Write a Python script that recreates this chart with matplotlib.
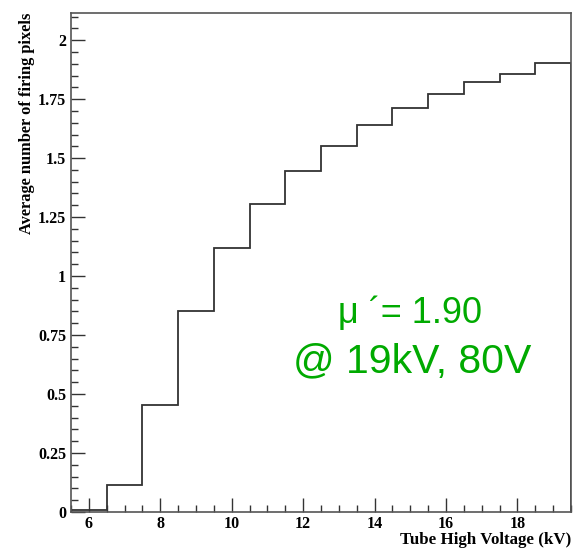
import matplotlib.pyplot as plt
import numpy as np
from matplotlib.ticker import MultipleLocator

# tube high voltage bins (kV) and mean number of firing pixels
voltage = [6, 7, 8, 9, 10, 11, 12, 13, 14, 15, 16, 17, 18, 19]
avg_pixels = [0.01, 0.115, 0.455, 0.85, 1.12, 1.305, 1.445, 1.55, 1.64, 1.712,
              1.77, 1.822, 1.856, 1.905]

edges = np.append(np.array(voltage) - 0.5, voltage[-1] + 0.5)

fig = plt.figure(figsize=(5.74, 5.49), dpi=100)
ax = fig.add_axes([0.1237, 0.0674, 0.8711, 0.9089])

ax.stairs(avg_pixels, edges, color='#333333', lw=1.3)
ax.set_xlim(5.5, 19.5)
ax.set_ylim(0, 2.115)

ax.xaxis.set_major_locator(MultipleLocator(2))
ax.xaxis.set_minor_locator(MultipleLocator(0.5))
ax.yaxis.set_major_locator(MultipleLocator(0.25))
ax.yaxis.set_minor_locator(MultipleLocator(0.05))
ax.yaxis.set_major_formatter(plt.FuncFormatter(lambda v, p: ('%g' % v)))
ax.tick_params(which='both', direction='in', top=False, right=False, color='#333333')
ax.tick_params(which='major', length=10, width=1)
ax.tick_params(which='minor', length=5, width=1)
ax.tick_params(axis='x', pad=3)
for s in ax.spines.values():
    s.set_color('#555555')
    s.set_linewidth(1.2)

for lab in ax.get_xticklabels() + ax.get_yticklabels():
    lab.set_family('Liberation Serif')
    lab.set_weight('bold')
    lab.set_fontsize(11.5)

ax.set_ylabel('Average number of firing pixels', family='Liberation Serif',
              weight='bold', fontsize=11.8, loc='top', labelpad=2)
ax.set_xlabel('Tube High Voltage (kV)', family='Liberation Serif',
              weight='bold', fontsize=12.2, loc='right')
ax.xaxis.set_label_coords(1.0, -0.04)

# annotation in pixel coordinates (origin bottom-left), baseline aligned
ax.text(410, 549 - 323, '\u03bc \u00b4= 1.90', transform=None, color='#00aa00',
        fontsize=26, family='Liberation Sans', ha='center', va='baseline')
ax.text(412, 549 - 372, '@ 19kV, 80V', transform=None, color='#00aa00',
        fontsize=29.5, family='Liberation Sans', ha='center', va='baseline')

plt.savefig('out.png', dpi=100)
